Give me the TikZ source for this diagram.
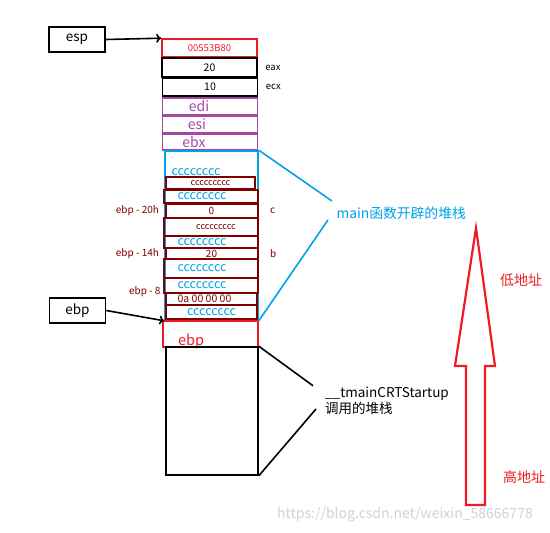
\documentclass[tikz,border=0pt]{standalone}
\usepackage{fontspec}
\setmainfont{Noto Sans CJK SC}
\usepackage{tikz}
\usetikzlibrary{arrows.meta,positioning}

\definecolor{stkred}{RGB}{237,28,36}
\definecolor{stkpurple}{RGB}{163,73,164}
\definecolor{stkblue}{RGB}{0,162,232}
\definecolor{stkdark}{RGB}{128,0,0}

\begin{document}
\begin{tikzpicture}[x=1pt, y=-1pt,
    fs/.style = {font=\fontsize{#1}{#1}\selectfont},
    cell/.style = {draw, line width=1.6pt, minimum width=95pt, inner sep=0pt},
    slot/.style = {draw=stkdark, line width=2pt, inner sep=0pt, minimum width=92pt},
    ptr/.style = {draw, line width=1.6pt, minimum width=56pt, minimum height=25pt, fs=13.5},
    cc/.style = {text=stkblue, fs=12.5},
    dd/.style = {text=stkdark, fs=9}]
  \useasboundingbox (0,0) rectangle (550,533);

  % registers pushed on top
  \node [cell, draw=stkred, text=stkred, fs=9.5, minimum height=18pt] (top) at (209.5,48) {00553B80};
  \node [cell, minimum height=19pt, fs=10.5] (eax) at (209.5,67.5) {20};
  \node [cell, minimum height=18pt, fs=10.5] (ecx) at (210,87) {10};
  \node [cell, draw=stkpurple, text=stkpurple, fs=14, minimum height=17pt] (edi) at (210,106.5) {edi\kern22pt};
  \node [cell, draw=stkpurple, text=stkpurple, fs=14, minimum height=17pt] (esi) at (210,124.5) {esi\kern26pt};
  \node [cell, draw=stkpurple, text=stkpurple, fs=14, minimum height=16pt] (ebx) at (210,142) {ebx\kern32pt};
  \node [right=4pt of eax, fs=9.5] (eaxlbl) {eax};
  \node [right=4pt of ecx, fs=9.5] (ecxlbl) {ecx};

  % stack frame of main
  \node [draw=stkblue, line width=1.6pt, minimum width=93pt, minimum height=169pt, inner sep=0pt] (mainframe) at (211.5,235.5) {};
  \node [cc] (c0) at (196,172) {cccccccc};
  \node [slot, dd, minimum width=89pt, minimum height=12pt] (s1) at (210.5,183) {ccccccccc};
  \node [slot, cc, minimum width=94pt, minimum height=13pt] (s2) at (211,196.5) {cccccccc\kern18pt};
  \node [slot, dd, fs=10, minimum height=14pt] (s3) at (211.5,211) {0};
  \node [slot, dd, minimum width=94pt, minimum height=18pt] (s4) at (211,227) {\kern10pt ccccccccc};
  \node [slot, cc, minimum width=94pt, minimum height=12pt] (s5) at (211,242) {cccccccc\kern18pt};
  \node [slot, dd, fs=10, minimum height=11pt] (s6) at (211.5,253.5) {20};
  \node [slot, cc, minimum width=94pt, minimum height=19pt] (s7) at (211,268.5) {cccccccc\kern18pt};
  \node [slot, cc, minimum width=94pt, minimum height=15pt] (s8) at (211,285.5) {cccccccc\kern18pt};
  \node [slot, dd, fs=10.5, minimum width=91pt, minimum height=12pt] (s9) at (211.5,299) {0a 00 00 00\kern14pt};
  \node [slot, cc, minimum width=91pt, minimum height=14pt] (s10) at (211.5,312) {cccccccc};
  \node [left=2pt of s3, dd, fs=10] (off20) {ebp - 20h};
  \node [left=2pt of s6, dd, fs=10] (off14) {ebp - 14h};
  \node [dd, fs=10, anchor=east] (off8) at (164,292) {ebp - 8};
  \node [right=8pt of s3, dd, fs=10] (varc) {c};
  \node [right=8pt of s6, dd, fs=10] (varb) {b};

  % saved ebp and caller frame
  \node [cell, draw=stkred, minimum height=26pt] (oldebp) at (210.5,334) {};
  \node [text=stkred, fs=14.5] (ebptxt) at (191,341) {ebp};
  \node [draw, line width=1.6pt, minimum width=92pt, minimum height=128pt, inner sep=0pt] (crtframe) at (212,411) {};

  % pointers
  \node [ptr] (esp) at (77,39.5) {esp};
  \node [ptr] (ebp) at (77.5,310.5) {ebp};
  \draw [-{To[length=5pt,width=9pt]}, line width=1.6pt] (esp.east) -- (top.north west);
  \draw [-{To[length=5pt,width=9pt]}, line width=1.6pt] (ebp.east) -- (mainframe.south west);

  % braces to the labels
  \node [text=stkblue, fs=13.8, anchor=west] (mainlbl) at (333,213) {main函数开辟的堆栈};
  \draw [stkblue, line width=1.6pt] (mainframe.north east) -- ([xshift=-1pt,yshift=2pt]mainlbl.north west);
  \draw [stkblue, line width=1.6pt] ([xshift=-5pt,yshift=3pt]mainlbl.south west) -- (mainframe.south east);
  \node [fs=13.5, anchor=west, align=left, inner sep=0pt] (crtlbl) at (325,401) {\_\_tmainCRTStartup\\[1pt]调用的堆栈};
  \draw [line width=1.6pt] (crtframe.north east) -- ([xshift=-12pt,yshift=1pt]crtlbl.north west);
  \draw [line width=1.6pt] ([xshift=-9pt,yshift=-8pt]crtlbl.west) -- (crtframe.south east);

  % direction of addresses
  \draw [stkred, line width=2.2pt, line join=miter] (466,505) -- (466,366) -- (455,366) -- (476,228)
    coordinate (tip) -- (495,366) -- (485,366) -- (485,505) -- cycle;
  \node [text=stkred, fs=14] (lowlbl) at (521,280) {低地址};
  \node [text=stkred, fs=14] (highlbl) at (524,477) {高地址};

  \node [text=black!18, fs=14] (mark) at (405,515) {https://blog.csdn.net/weixin\_58666778};
\end{tikzpicture}
\end{document}
